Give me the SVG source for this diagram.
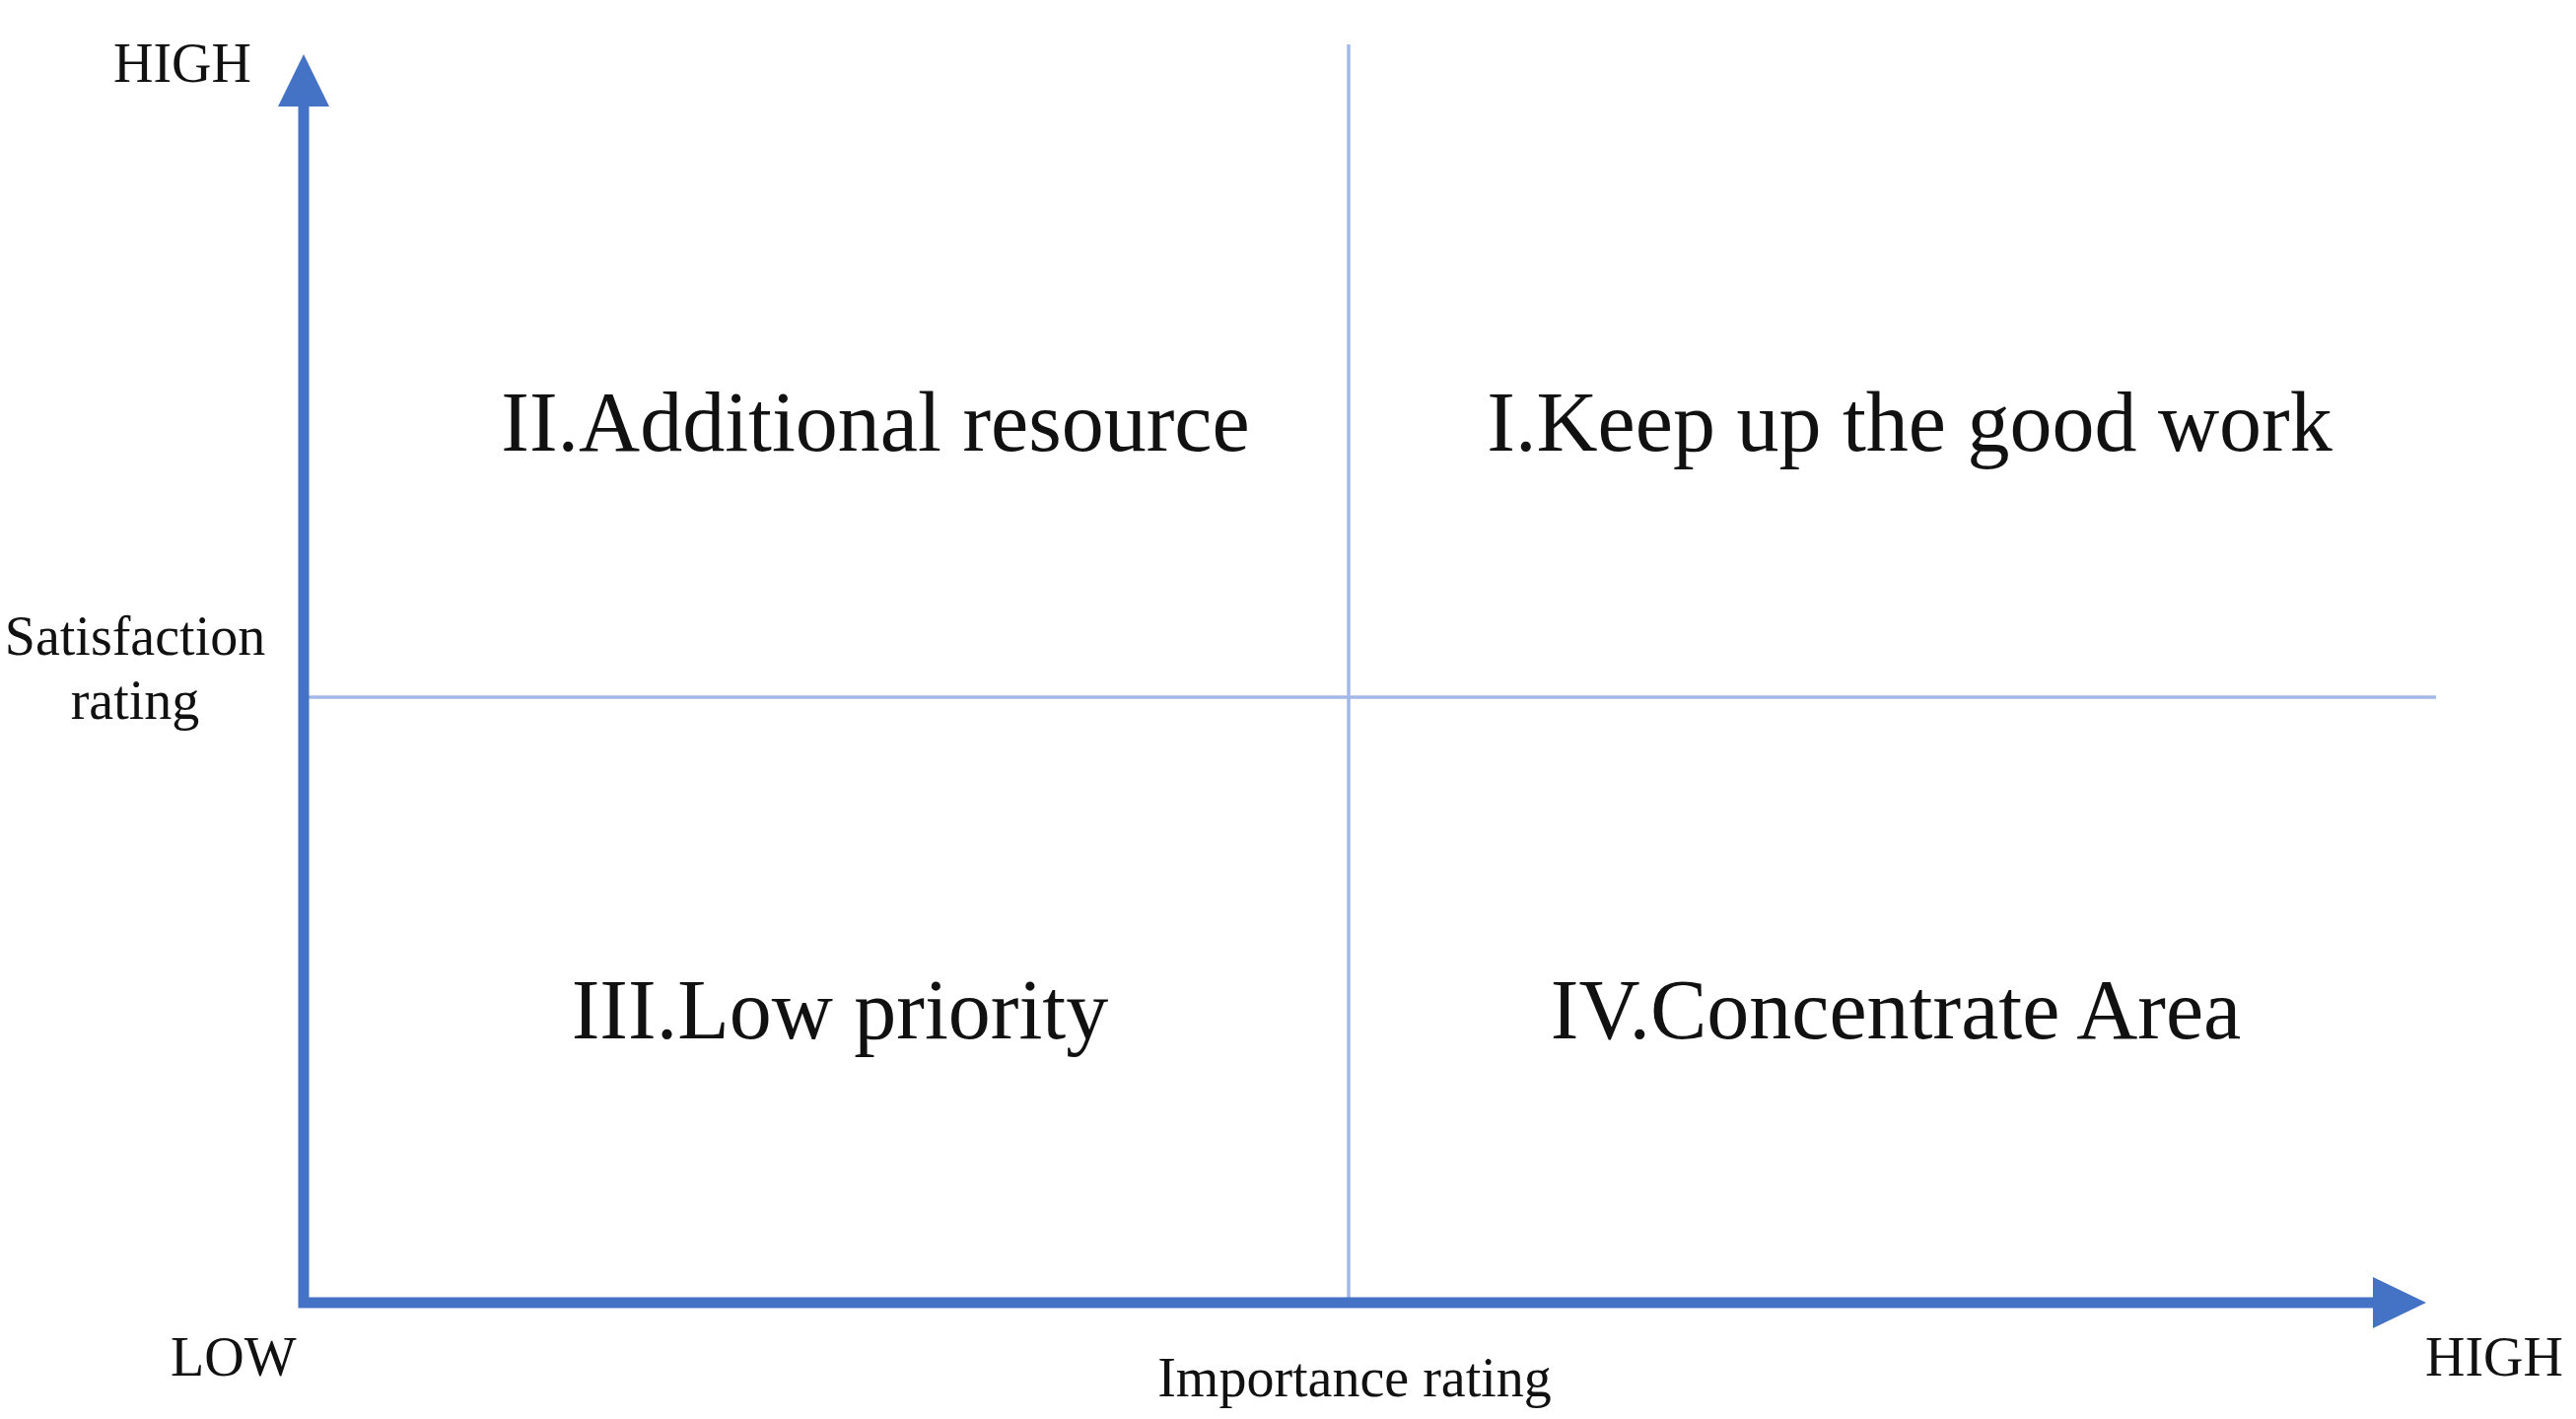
<svg xmlns="http://www.w3.org/2000/svg" width="2613" height="1439" viewBox="0 0 2613 1439">
<style>
  .lbl{font-family:"Liberation Serif","Times New Roman",serif;fill:#111;}
  .axis-lbl{font-size:56px;}
  .quad{font-size:86px;text-anchor:middle;}
  .axis{stroke:#4472C4;stroke-width:11;fill:none;}
  .grid{stroke:#A2B9E8;stroke-width:3.5;fill:none;}
  .head{fill:#4472C4;}
</style>
<rect width="2613" height="1439" fill="#ffffff"/>
<g id="connectors">
  <line id="divider-v" class="grid" x1="1368" y1="45" x2="1368" y2="1318"/>
  <line id="divider-h" class="grid" x1="312" y1="707" x2="2471" y2="707"/>
  <path id="axes" class="axis" d="M308,106 V1321 H2409" stroke-linejoin="miter"/>
  <polygon id="y-arrow" class="head" points="308,55 282,108 334,108"/>
  <polygon id="x-arrow" class="head" points="2461,1321 2407,1295 2407,1347"/>
</g>
<g id="y-high"><text class="lbl axis-lbl" x="115" y="83">HIGH</text></g>
<g id="y-low"><text class="lbl axis-lbl" x="173" y="1395">LOW</text></g>
<g id="x-high"><text class="lbl axis-lbl" x="2460" y="1395">HIGH</text></g>
<g id="y-title">
  <text class="lbl axis-lbl" x="137" y="664" text-anchor="middle">Satisfaction</text>
  <text class="lbl axis-lbl" x="137" y="729" text-anchor="middle">rating</text>
</g>
<g id="x-title"><text class="lbl axis-lbl" x="1374" y="1416" text-anchor="middle">Importance rating</text></g>
<g id="quadrant-II"><text class="lbl quad" x="888" y="457">II.Additional resource</text></g>
<g id="quadrant-I"><text class="lbl quad" x="1937" y="457">I.Keep up the good work</text></g>
<g id="quadrant-III"><text class="lbl quad" x="852" y="1053">III.Low priority</text></g>
<g id="quadrant-IV"><text class="lbl quad" x="1923" y="1053">IV.Concentrate Area</text></g>
</svg>
